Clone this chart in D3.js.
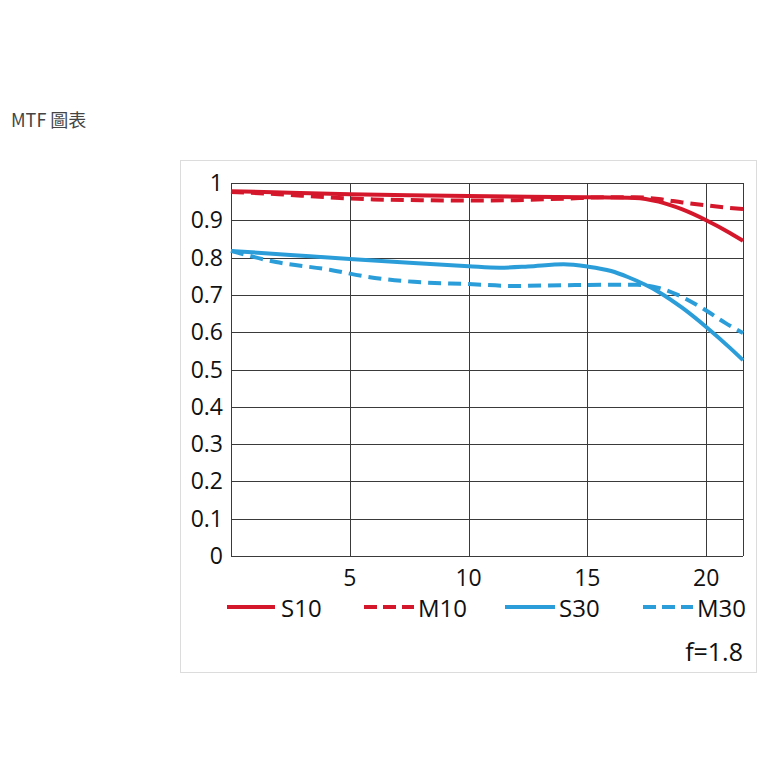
<!DOCTYPE html>
<html><head><meta charset="utf-8">
<script src="https://cdn.jsdelivr.net/npm/d3@7"></script>
<style>body{margin:0;background:#fff}svg{display:block}</style>
</head><body>
<script>
const xTicks = [5, 10, 15, 20];
const yTicks = [0, 0.1, 0.2, 0.3, 0.4, 0.5, 0.6, 0.7, 0.8, 0.9, 1];
const yTickLabels = ["0", "0.1", "0.2", "0.3", "0.4", "0.5", "0.6", "0.7", "0.8", "0.9", "1"];
const s10 = [[0,0.978],[2.5,0.974],[5,0.970],[7.5,0.967],[10,0.965],[12.5,0.963],[15,0.962],[17,0.960],[18,0.950],[19,0.929],[20,0.900],[21,0.866],[21.55,0.845]];
const m10 = [[0,0.976],[2,0.970],[4,0.962],[6,0.956],[8,0.954],[10,0.953],[12,0.954],[14,0.958],[16,0.962],[17,0.962],[18,0.957],[19,0.948],[20,0.940],[21,0.933],[21.55,0.930]];
const s30 = [[0,0.818],[2.5,0.807],[5,0.796],[7.5,0.786],[10,0.777],[11.3,0.773],[12.5,0.776],[14,0.782],[15,0.776],[16,0.764],[16.7,0.748],[18,0.708],[19,0.665],[20,0.614],[21,0.558],[21.55,0.525]];
const m30 = [[0,0.818],[1.9,0.788],[4.2,0.767],[5.6,0.750],[7.7,0.735],[10,0.729],[11.9,0.724],[14,0.726],[16,0.727],[17.1,0.727],[18,0.719],[18.8,0.700],[19.9,0.662],[20.8,0.625],[21.55,0.598]];
const seriesNames = ["S10", "M10", "S30", "M30"];

const RED = "#d5172b", BLUE = "#2b9ed9";
const svg = d3.select("body").append("svg").attr("width", 777).attr("height", 777);
const font = "'Open Sans', 'Noto Sans', sans-serif";

svg.append("text").attr("x", 11).attr("y", 127).attr("font-family", "'Noto Sans CJK TC', 'Open Sans', sans-serif")
  .attr("font-size", 18).attr("fill", "#444").text("MTF 圖表");

svg.append("rect").attr("x", 180.5).attr("y", 160.5).attr("width", 576).attr("height", 512)
  .attr("fill", "none").attr("stroke", "#dcdcdc");

const L = 231, R = 743, T = 183, B = 556;
const x = d3.scaleLinear().domain([0, 21.55]).range([L, R]);
const y = d3.scaleLinear().domain([0, 1]).range([B, T]);

const g = svg.append("g");
g.selectAll(".hg").data(yTicks).join("line")
  .attr("x1", L).attr("x2", R).attr("y1", d => Math.round(y(d)) + 0.5).attr("y2", d => Math.round(y(d)) + 0.5)
  .attr("stroke", "#3a3a3a").attr("stroke-width", 1);
g.selectAll(".vg").data([0, ...xTicks, 21.55]).join("line")
  .attr("y1", T).attr("y2", B).attr("x1", d => Math.round(x(d)) + 0.5).attr("x2", d => Math.round(x(d)) + 0.5)
  .attr("stroke", "#3a3a3a").attr("stroke-width", 1);

g.selectAll(".yl").data(yTicks).join("text")
  .attr("x", 223).attr("y", d => y(d) + 8).attr("text-anchor", "end")
  .attr("font-family", font).attr("font-size", 23).attr("fill", "#111")
  .text((d, i) => yTickLabels[i]);
g.selectAll(".xl").data(xTicks).join("text")
  .attr("x", d => x(d)).attr("y", 586).attr("text-anchor", "middle")
  .attr("font-family", font).attr("font-size", 23).attr("fill", "#111")
  .text(d => d);

const line = d3.line().x(d => x(d[0])).y(d => y(d[1])).curve(d3.curveMonotoneX);
const series = [
  {data: s30, color: BLUE, dash: null},
  {data: m30, color: BLUE, dash: "13 7"},
  {data: s10, color: RED, dash: null},
  {data: m10, color: RED, dash: "13 7"}
];
series.forEach(s => {
  svg.append("path").attr("d", line(s.data)).attr("fill", "none")
    .attr("stroke", s.color).attr("stroke-width", 4)
    .attr("stroke-dasharray", s.dash);
});

const legend = [
  {name: seriesNames[0], color: RED, dash: null, x1: 227, x2: 275, tx: 281},
  {name: seriesNames[1], color: RED, dash: "13 6", x1: 364, x2: 414, tx: 418},
  {name: seriesNames[2], color: BLUE, dash: null, x1: 505, x2: 555, tx: 559},
  {name: seriesNames[3], color: BLUE, dash: "13 6", x1: 643, x2: 693, tx: 697}
];
legend.forEach(l => {
  svg.append("line").attr("x1", l.x1).attr("x2", l.x2).attr("y1", 607).attr("y2", 607)
    .attr("stroke", l.color).attr("stroke-width", 4).attr("stroke-dasharray", l.dash);
  svg.append("text").attr("x", l.tx).attr("y", 617).attr("font-family", font)
    .attr("font-size", 24).attr("fill", "#111").text(l.name);
});
svg.append("text").attr("x", 743).attr("y", 661).attr("text-anchor", "end")
  .attr("font-family", font).attr("font-size", 25).attr("fill", "#111").text("f=1.8");
</script>
</body></html>
